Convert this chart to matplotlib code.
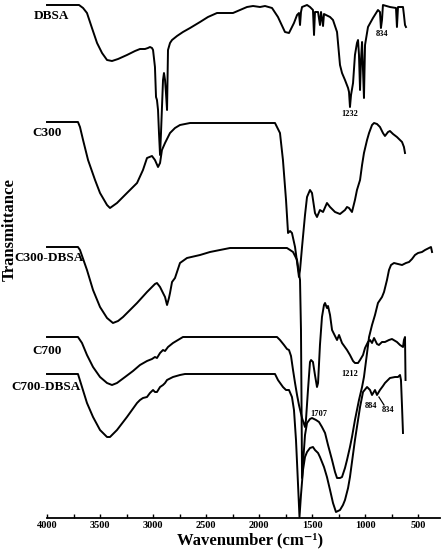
import matplotlib
matplotlib.use("Agg")
import matplotlib.pyplot as plt
from matplotlib.ticker import MultipleLocator

plt.rcParams['font.family'] = ['Liberation Serif', 'DejaVu Serif']
plt.rcParams['font.weight'] = 'bold'

# FTIR spectra, transmittance in a.u. relative to each trace's plateau
samples = ['DBSA', 'C300', 'C300-DBSA', 'C700', 'C700-DBSA']
offsets = [51.3, 39.6, 27.1, 18.1, 14.4]

wn_dbsa = [4000, 3698, 3660, 3623, 3576, 3528, 3481, 3434, 3387, 3330, 3246, 3170, 3123, 3076,
           3048, 3029, 3010, 3000, 2982, 2972, 2963, 2953, 2944, 2934, 2925, 2906, 2897, 2887,
           2878, 2868, 2859, 2840, 2821, 2774, 2718, 2651, 2557, 2482, 2397, 2321, 2246, 2180,
           2114, 2057, 1991, 1944, 1878, 1822, 1756, 1718, 1671, 1642, 1624, 1614, 1605, 1595,
           1548, 1520, 1492, 1482, 1473, 1454, 1444, 1426, 1416, 1397, 1388, 1369, 1331, 1303,
           1265, 1237, 1218, 1190, 1161, 1152, 1143, 1133, 1114, 1096, 1077, 1067, 1058, 1048,
           1039, 1029, 1020, 1011, 1001, 973, 926, 879, 860, 851, 841, 832, 766, 709, 700, 690,
           643, 634, 624, 615]
t_dbsa = [0, 0, -0.3, -0.8, -2.3, -3.8, -4.8, -5.5, -5.6, -5.4, -5.0, -4.6, -4.4, -4.4,
          -4.3, -4.2, -4.3, -4.5, -6.2, -9.2, -9.5, -10.5, -12.8, -15.0, -12.8, -7.5, -6.8, -7.5,
          -8.8, -10.5, -4.5, -3.8, -3.5, -3.1, -2.7, -2.3, -1.7, -1.2, -0.8, -0.8, -0.8, -0.5,
          -0.2, -0.1, -0.2, -0.1, -0.3, -1.2, -2.7, -2.8, -1.8, -1.0, -0.8, -2.0, -0.7, -0.2,
          0, -0.2, -0.5, -3.0, -0.7, -0.7, -0.7, -2.0, -0.7, -2.1, -0.9, -1.0, -1.2, -1.5,
          -2.7, -6.0, -6.8, -7.5, -8.3, -8.7, -10.2, -9.0, -7.8, -5.0, -3.8, -3.5, -5.0, -8.5,
          -5.5, -3.7, -6.5, -9.3, -4.0, -2.2, -1.3, -0.5, -0.7, -2.3, -1.5, 0, -0.2, -0.3, -2.2, -0.2,
          -0.2, -1.0, -2.0, -2.2]

wn_c300 = [4000, 3708, 3689, 3660, 3613, 3547, 3500, 3434, 3406, 3340, 3246, 3151, 3095, 3057,
           3010, 2982, 2953, 2934, 2916, 2887, 2840, 2793, 2746, 2651, 1850, 1803, 1775, 1746,
           1727, 1708, 1690, 1661, 1642, 1624, 1614, 1595, 1567, 1548, 1520, 1501, 1473, 1454,
           1426, 1397, 1360, 1331, 1284, 1237, 1190, 1171, 1152, 1124, 1096, 1077, 1048, 1029,
           1011, 982, 963, 935, 916, 888, 860, 832, 813, 784, 766, 737, 700, 652, 634, 624]
t_c300 = [0, 0, -0.5, -1.8, -3.8, -5.8, -7.1, -8.3, -8.6, -8.1, -7.1, -6.1, -4.8, -3.6,
          -3.4, -3.8, -4.5, -4.1, -2.8, -2.1, -1.1, -0.6, -0.3, -0.1, -0.1, -1.1, -3.8, -7.8,
          -11.1, -10.9, -11.1, -12.5, -14.0, -15.5, -14.8, -12.5, -9.3, -7.5, -6.8, -7.1, -9.1, -9.5,
          -8.8, -9.0, -8.1, -8.5, -9.0, -9.2, -8.8, -8.5, -8.6, -9.0, -7.8, -6.8, -5.8, -4.3,
          -3.1, -1.8, -1.1, -0.3, -0.1, -0.2, -0.5, -1.1, -1.4, -1.0, -0.9, -1.2, -1.5, -2.0, -2.5, -3.1]

wn_c300_dbsa = [4000, 3708, 3689, 3623, 3566, 3500, 3434, 3378, 3330, 3283, 3217, 3151, 3057,
                2982, 2963, 2934, 2906, 2887, 2868, 2850, 2840, 2821, 2793, 2746, 2680, 2557,
                2463, 2369, 2274, 1737, 1708, 1680, 1642, 1614, 1605, 1600, 1595, 1577, 1567,
                1548, 1520, 1501, 1463, 1435, 1407, 1378, 1350, 1312, 1284, 1265, 1237, 1218,
                1190, 1171, 1143, 1124, 1096, 1058, 1029, 1011, 982, 963, 935, 907, 879, 841,
                822, 794, 775, 756, 728, 690, 652, 615, 586, 558, 530, 501, 464, 435, 398, 379, 369]
t_c300_dbsa = [0, 0, -0.3, -2.3, -4.3, -6.0, -7.1, -7.6, -7.4, -7.0, -6.3, -5.6, -4.5,
               -3.7, -3.6, -4.0, -4.6, -5.0, -5.8, -5.1, -4.6, -3.5, -3.1, -1.6, -1.1, -0.8,
               -0.5, -0.3, -0.1, -0.1, -0.3, -0.5, -1.3, -3.3, -8.3, -15.3, -23.1, -20.3, -18.8,
               -17.6, -17.2, -17.1, -17.3, -17.5, -18.0, -18.6, -19.8, -21.3, -22.5, -23.1, -23.1, -23.0,
               -22.1, -21.3, -20.0, -19.0, -17.3, -15.3, -14.0, -13.0, -10.6, -9.0, -7.8, -6.8, -5.6, -5.0,
               -4.5, -3.3, -2.3, -1.8, -1.6, -1.7, -1.8, -1.6, -1.5, -1.2, -0.8, -0.6, -0.5, -0.3, -0.1, 0, -0.5]

wn_c700 = [4000, 3708, 3670, 3623, 3566, 3500, 3434, 3387, 3340, 3264, 3189, 3123, 3057, 3010,
           2982, 2963, 2934, 2906, 2887, 2859, 2812, 2765, 2718, 1831, 1803, 1765, 1737, 1718,
           1699, 1680, 1661, 1642, 1624, 1595, 1567, 1558, 1539, 1520, 1510, 1492, 1473, 1454,
           1444, 1426, 1407, 1388, 1378, 1360, 1350, 1331, 1312, 1284, 1265, 1246, 1218, 1171,
           1143, 1114, 1096, 1067, 1048, 1020, 1001, 973, 954, 935, 916, 888, 870, 841, 813,
           775, 747, 700, 671, 643, 634, 624, 619]
t_c700 = [0, 0, -0.6, -1.8, -3.0, -4.0, -4.6, -4.8, -4.6, -4.0, -3.4, -2.8, -2.4, -2.2,
          -2.0, -2.1, -1.6, -1.3, -1.4, -1.0, -0.6, -0.3, 0, 0, -0.3, -0.8, -1.2, -1.3,
          -1.9, -3.3, -4.6, -5.8, -6.8, -8.1, -9.0, -8.3, -5.3, -2.5, -2.3, -2.5, -3.8, -5.0,
          -4.6, -0.8, 2.0, 3.2, 3.4, 2.9, 3.1, 2.2, 0.7, 0.1, -0.3, 0.2, -0.6, -1.3,
          -1.8, -2.4, -2.6, -2.6, -2.3, -1.8, -1.1, -0.5, -0.3, -0.6, -0.1, -0.7, -0.8, -0.5, -0.5,
          -0.3, -0.2, -0.5, -0.8, -1.0, -0.3, 0, -4.3]

wn_c700_dbsa = [4000, 3708, 3670, 3623, 3566, 3500, 3434, 3406, 3340, 3246, 3151, 3123, 3095,
                3057, 3029, 3000, 2982, 2963, 2934, 2906, 2887, 2868, 2812, 2746, 2699, 1850,
                1822, 1775, 1746, 1718, 1690, 1671, 1652, 1642, 1619, 1605, 1586, 1567, 1548,
                1520, 1492, 1473, 1444, 1426, 1388, 1360, 1331, 1303, 1275, 1256, 1237, 1209,
                1190, 1161, 1143, 1124, 1096, 1067, 1048, 1020, 982, 954, 935, 907, 888, 860,
                832, 813, 766, 718, 690, 671, 662, 652, 643]
t_c700_dbsa = [0, 0, -1.3, -2.9, -4.3, -5.6, -6.3, -6.3, -5.6, -4.3, -2.9, -2.6, -2.4,
               -2.3, -1.9, -1.6, -1.8, -1.8, -1.3, -1.1, -0.9, -0.6, -0.3, -0.1, 0, 0,
               -0.6, -1.3, -1.6, -1.6, -2.3, -3.6, -6.6, -8.9, -14.3, -12.1, -9.6, -8.3, -7.8,
               -7.4, -7.3, -7.6, -7.9, -8.3, -9.3, -10.3, -11.6, -12.9, -13.8, -13.7, -13.6, -13.1,
               -12.6, -11.4, -10.3, -8.8, -6.6, -4.6, -3.3, -1.8, -1.3, -1.6, -2.1, -1.6, -2.1, -1.6,
               -1.2, -0.9, -0.4, -0.3, -0.3, -0.1, -0.6, -3.3, -5.9]

wavenumbers = [wn_dbsa, wn_c300, wn_c300_dbsa, wn_c700, wn_c700_dbsa]
transmittance = [t_dbsa, t_c300, t_c300_dbsa, t_c700, t_c700_dbsa]

# peak labels (text, wavenumber, a.u.)
peak_labels = [('834', 836, 48.4), ('1232', 1143, 40.35), ('1212', 1147, 14.4),
               ('1707', 1440, 10.4), ('884', 949, 11.2), ('834', 784, 10.8)]

fig = plt.figure(figsize=(4.44, 5.5), dpi=100)
ax = fig.add_axes([47 / 444, 32 / 550, 393 / 444, 518 / 550])

for wn, t, off in zip(wavenumbers, transmittance, offsets):
    ax.plot(wn, [v + off for v in t], color='black', linewidth=1.4, clip_on=False,
            solid_joinstyle='round')

# sample names, left of each trace
name_pos = [(3958, 50.2), (4000, 38.5), (3981, 26.0), (3995, 16.7), (4009, 13.1)]
for name, (x, y) in zip(samples, name_pos):
    ax.text(x, y, name, fontsize=9.5, fontweight='bold', ha='center', va='center', clip_on=False)

for txt, x, y in peak_labels:
    ax.text(x, y, txt, fontsize=6, fontweight='bold', ha='center', va='center')
ax.plot([870, 822], [12.1, 11.3], color='black', linewidth=0.9)

ax.set_xlim(4000, 294)
ax.set_ylim(0, 51.8)
for s in ['top', 'right', 'left']:
    ax.spines[s].set_visible(False)
ax.spines['bottom'].set_linewidth(1.3)
ax.set_yticks([])
ax.set_xticks([4000, 3500, 3000, 2500, 2000, 1500, 1000, 500])
ax.xaxis.set_minor_locator(MultipleLocator(250))
ax.tick_params(axis='x', which='both', direction='in', length=3, width=1, pad=2, labelsize=7.5)
for lbl in ax.get_xticklabels():
    lbl.set_fontweight('bold')

fig.text(250 / 444, 1 - 540 / 550, 'Wavenumber (cm\u207b\u00b9)', fontsize=12, fontweight='bold',
         ha='center', va='center')
fig.text(10 / 444, 1 - 230 / 550, 'Transmittance', fontsize=12, fontweight='bold',
         rotation=90, ha='center', va='center')

fig.savefig('out.png', dpi=100)
